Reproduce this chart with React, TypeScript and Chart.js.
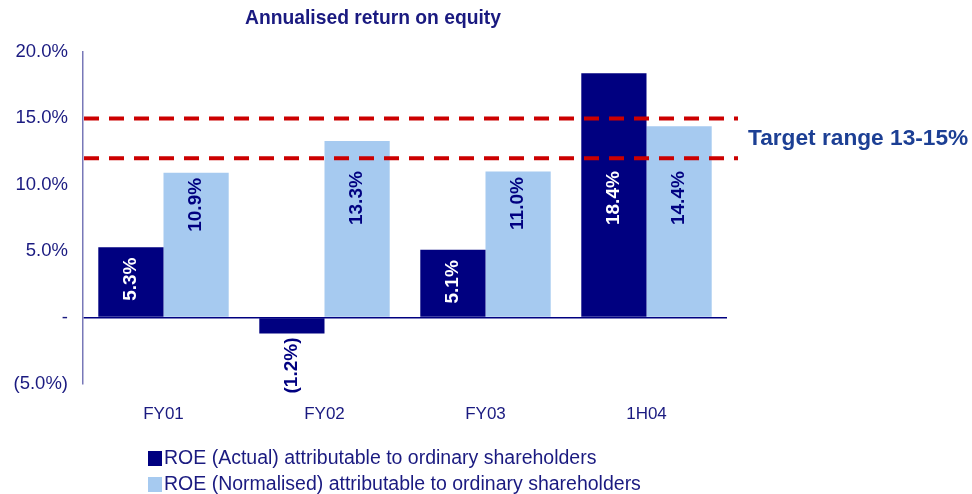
import React, { useEffect, useRef } from "react";
import { Chart, registerables } from "chart.js";

Chart.register(...registerables);

const categories = ["FY01", "FY02", "FY03", "1H04"];
const roeActual = [5.3, -1.2, 5.1, 18.4];
const roeNormalised = [10.9, 13.3, 11.0, 14.4];
const seriesLabels = [
  "ROE (Actual) attributable to ordinary shareholders",
  "ROE (Normalised) attributable to ordinary shareholders",
];
const targetLines = [15, 12];
const targetText = "Target range 13-15%";
const titleText = "Annualised return on equity";

const FONT = '"Liberation Sans", Arial, sans-serif';
const NAVY = "#000080";
const LIGHT = "#A6CAF0";
const TEXT = "#1a1a80";

const fmtPct = (v: number) =>
  v < 0 ? `(${Math.abs(v).toFixed(1)}%)` : v === 0 ? "-" : `${v.toFixed(1)}%`;

const overlayPlugin = {
  id: "overlay",
  afterDatasetsDraw(chart: any) {
    const { ctx, chartArea, scales } = chart;
    const y = scales.y;
    ctx.save();
    // target dashed lines
    ctx.strokeStyle = "#CC0000";
    ctx.lineWidth = 4;
    ctx.setLineDash([15, 10]);
    targetLines.forEach((v) => {
      const py = y.getPixelForValue(v);
      ctx.beginPath();
      ctx.moveTo(chartArea.left + 1, py);
      ctx.lineTo(chartArea.right + 11, py);
      ctx.stroke();
    });
    ctx.setLineDash([]);
    // data labels
    const minCenter = y.getPixelForValue(9);
    chart.data.datasets.forEach((ds: any, di: number) => {
      const meta = chart.getDatasetMeta(di);
      meta.data.forEach((bar: any, i: number) => {
        const v = ds.data[i];
        const text = fmtPct(v);
        ctx.save();
        ctx.font = `bold 19px ${FONT}`;
        ctx.textBaseline = "middle";
        if (v < 0) {
          ctx.fillStyle = NAVY;
          ctx.translate(bar.x, bar.y + 4);
          ctx.rotate(-Math.PI / 2);
          ctx.textAlign = "right";
          ctx.fillText(text, 0, 0);
        } else {
          ctx.fillStyle = di === 0 ? "#ffffff" : NAVY;
          const cy = Math.max(bar.y + 32, minCenter);
          ctx.translate(bar.x, cy);
          ctx.rotate(-Math.PI / 2);
          ctx.textAlign = "center";
          ctx.fillText(text, 0, 0);
        }
        ctx.restore();
      });
    });
    // target text
    ctx.fillStyle = "#1c3f94";
    ctx.font = `bold 22.7px ${FONT}`;
    ctx.textAlign = "left";
    ctx.textBaseline = "middle";
    ctx.fillText(targetText, chartArea.right + 21, y.getPixelForValue(13.5));
    // title
    ctx.fillStyle = TEXT;
    ctx.font = `bold 19.3px ${FONT}`;
    ctx.textAlign = "center";
    ctx.fillText(titleText, 373, 19);
    // legend
    ctx.font = `19.5px ${FONT}`;
    chart.data.datasets.forEach((ds: any, di: number) => {
      const ly = 458 + di * 26;
      ctx.fillStyle = ds.backgroundColor;
      ctx.fillRect(148, ly - 7, 14, 15);
      ctx.fillStyle = TEXT;
      ctx.textAlign = "left";
      ctx.fillText(ds.label, 164, ly + 1);
    });
    ctx.restore();
  },
};

export default function App() {
  const ref = useRef<HTMLCanvasElement>(null);
  useEffect(() => {
    if (!ref.current) return;
    const chart = new Chart(ref.current, {
      type: "bar",
      data: {
        labels: categories,
        datasets: [
          { label: seriesLabels[0], data: roeActual, backgroundColor: NAVY },
          { label: seriesLabels[1], data: roeNormalised, backgroundColor: LIGHT },
        ],
      },
      options: {
        responsive: false,
        animation: false,
        layout: { padding: { top: 52, right: 245, left: 0, bottom: 0 } },
        plugins: {
          legend: { display: false },
          title: { display: false },
          tooltip: { enabled: false },
        },
        datasets: { bar: { categoryPercentage: 0.81, barPercentage: 1 } },
        scales: {
          x: {
            grid: { display: false },
            border: { display: false },
            ticks: { color: TEXT, font: { family: FONT, size: 17 }, padding: 12 },
            afterFit: (s: any) => {
              s.height = 110;
            },
          },
          y: {
            min: -5,
            max: 20,
            ticks: {
              stepSize: 5,
              color: TEXT,
              font: { family: FONT, size: 18.5 },
              padding: 15,
              callback: (v: any) => fmtPct(Number(v)),
            },
            grid: {
              drawTicks: false,
              lineWidth: 1.5,
              color: (c: any) => (c.tick && c.tick.value === 0 ? NAVY : "rgba(0,0,0,0)"),
            },
            border: { display: true, color: "#7878b8", width: 1.5 },
            afterFit: (s: any) => {
              s.width = 83;
            },
          },
        },
      },
      plugins: [overlayPlugin],
    });
    return () => chart.destroy();
  }, []);
  return (
    <div style={{ position: "absolute", left: 0, top: 0, width: 972, height: 494, background: "#fff" }}>
      <canvas ref={ref} width={972} height={494} />
    </div>
  );
}
